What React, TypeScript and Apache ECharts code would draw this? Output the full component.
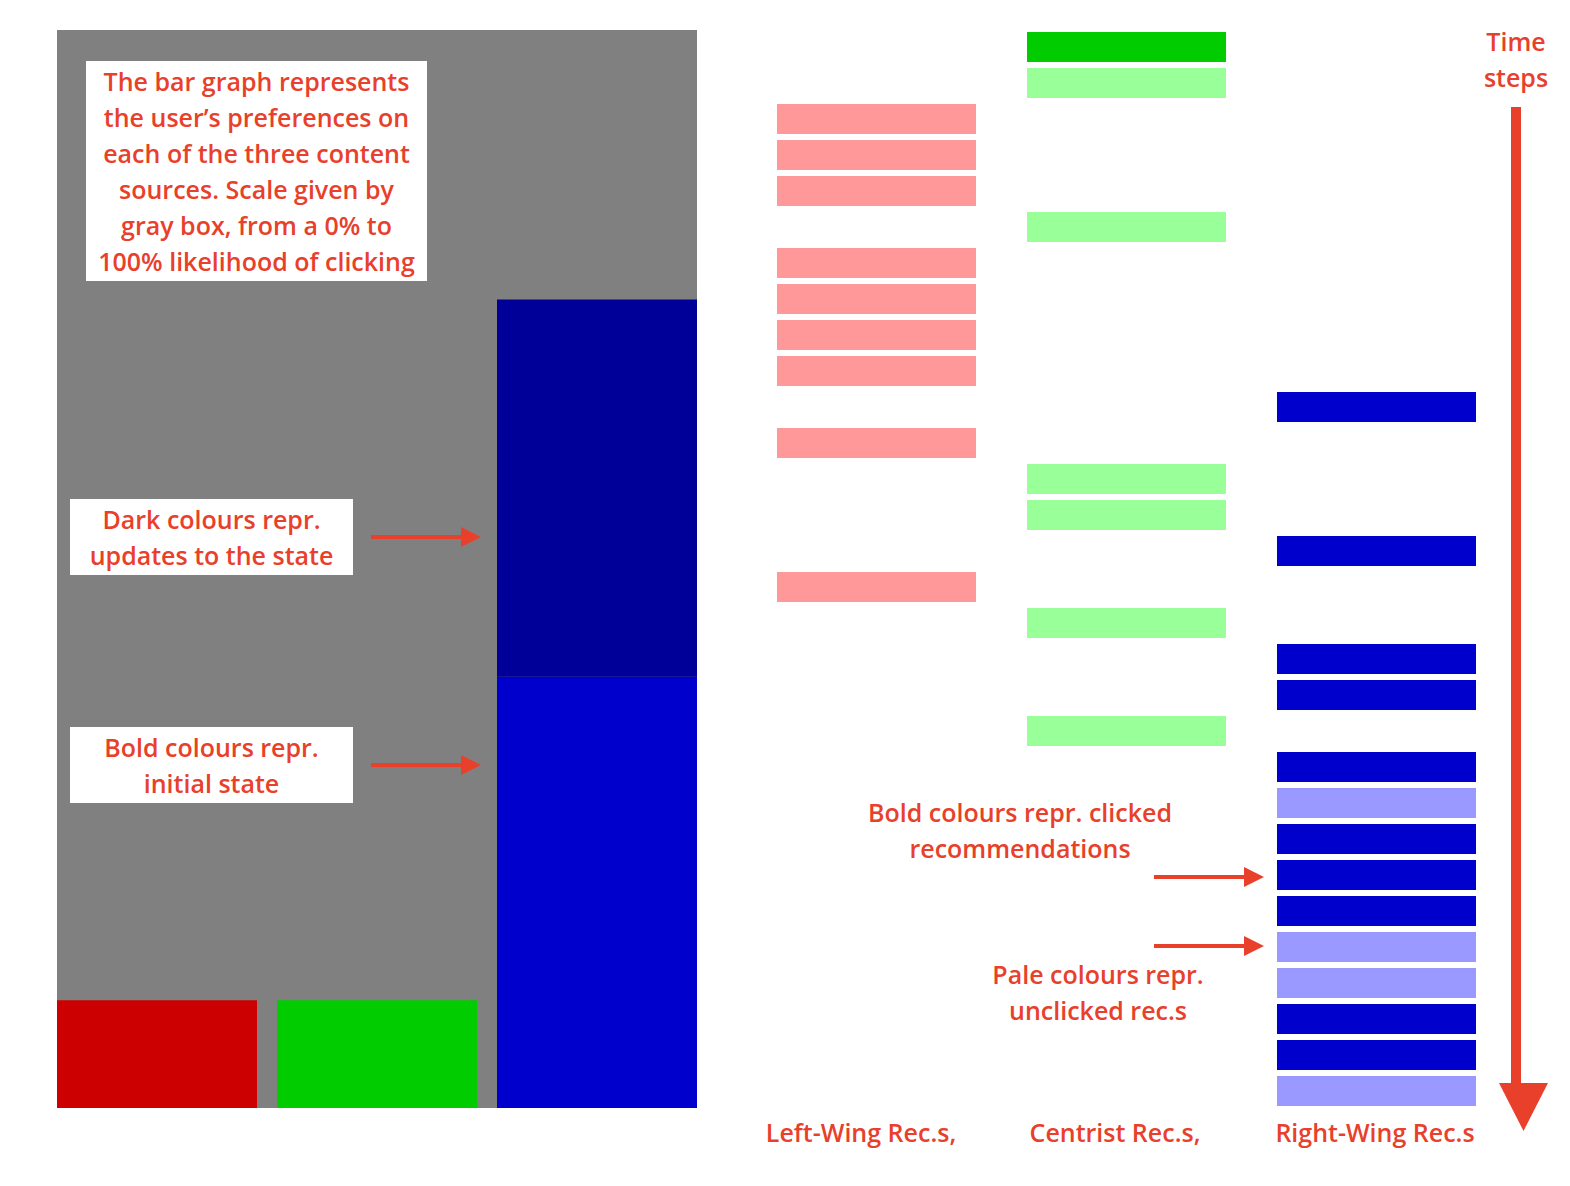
import React, { useEffect, useRef } from "react";
import * as echarts from "echarts";

// ---- Left panel: user preference state (0–100% likelihood of clicking)
const sources = ["Left-Wing", "Centrist", "Right-Wing"];
const initialState = [10, 10, 40];
const stateUpdates = [0, 0, 35];
const boldColours = ["#CC0000", "#00CC00", "#0000CC"];
const darkColours = ["#990000", "#009900", "#000099"];
const paleColours = ["#FF9999", "#99FF99", "#9999FF"];

// ---- Right panel: recommendations over time steps
// column index of the recommended source at each time step
const recSource = [1, 1, 0, 0, 0, 1, 0, 0, 0, 0, 2, 0, 1, 1, 2, 0, 1, 2, 2, 1, 2, 2, 2, 2, 2, 2, 2, 2, 2, 2];
// 1 = clicked, 0 = unclicked
const recClicked = [1, 0, 0, 0, 0, 0, 0, 0, 0, 0, 1, 0, 0, 0, 1, 0, 0, 1, 1, 0, 1, 0, 1, 1, 1, 0, 0, 1, 1, 0];
const columnLabels = ["Left-Wing Rec.s,", "Centrist Rec.s,", "Right-Wing Rec.s"];

const RED = "#E8402A";
const FONT = "Open Sans";

export default function App() {
  const ref = useRef<HTMLDivElement>(null);

  useEffect(() => {
    if (!ref.current) return;
    const chart = echarts.init(ref.current, null, { renderer: "svg" });

    const recData = recSource.map((c, i) => [c, i, recClicked[i]]);

    const textStyle = (extra: any) => ({
      fill: RED,
      fontFamily: FONT,
      fontWeight: 600,
      fontSize: 25,
      textAlign: "center",
      textVerticalAlign: "middle",
      lineHeight: 36,
      ...extra,
    });

    const arrow = (x1: number, x2: number, y: number) => [
      { type: "line", shape: { x1, y1: y, x2: x2 - 18, y2: y }, style: { stroke: RED, lineWidth: 4 }, z: 100 },
      {
        type: "polygon",
        shape: { points: [[x2 - 20, y - 10], [x2, y], [x2 - 20, y + 10]] },
        style: { fill: RED },
        z: 100,
      },
    ];

    const option: any = {
      animation: false,
      backgroundColor: "#ffffff",
      grid: [
        // gray scale box (0% – 100%)
        { left: 57, top: 30, width: 640, height: 1078, show: true, backgroundColor: "#808080", borderWidth: 0 },
        // bars (category bands of 220px, bars 200px wide)
        { left: 47, top: 30, width: 660, height: 1078, show: false },
        // recommendations timeline
        { left: 751.5, top: 29, width: 750, height: 1080, show: false },
      ],
      xAxis: [
        { type: "value", gridIndex: 0, min: 0, max: 1, show: false },
        { type: "category", gridIndex: 1, data: sources, show: false },
        { type: "value", gridIndex: 2, min: -0.5, max: 2.5, show: false },
      ],
      yAxis: [
        { type: "value", gridIndex: 0, min: 0, max: 100, show: false },
        { type: "value", gridIndex: 1, min: 0, max: 100, show: false },
        { type: "value", gridIndex: 2, min: -0.5, max: recSource.length - 0.5, inverse: true, show: false },
      ],
      series: [
        {
          type: "bar",
          name: "Initial state",
          xAxisIndex: 1,
          yAxisIndex: 1,
          stack: "pref",
          barWidth: 200,
          data: initialState.map((v, i) => ({ value: v, itemStyle: { color: boldColours[i] } })),
        },
        {
          type: "bar",
          name: "Updates",
          xAxisIndex: 1,
          yAxisIndex: 1,
          stack: "pref",
          barWidth: 200,
          data: stateUpdates.map((v, i) => ({ value: v, itemStyle: { color: darkColours[i] } })),
        },
        {
          type: "custom",
          name: "Recommendations",
          xAxisIndex: 2,
          yAxisIndex: 2,
          data: recData,
          renderItem: (params: any, api: any) => {
            const col = api.value(0);
            const row = api.value(1);
            const clicked = api.value(2);
            const p = api.coord([col, row]);
            const s = api.size([1, 1]);
            const w = s[0] * 0.796;
            const h = s[1] * (30 / 36);
            return {
              type: "rect",
              shape: { x: p[0] - w / 2, y: p[1] - h / 2, width: w, height: h },
              style: { fill: clicked ? boldColours[col] : paleColours[col] },
            };
          },
        },
      ],
      graphic: [
        // top-left explanation box
        { type: "rect", shape: { x: 86, y: 61, width: 341, height: 220 }, style: { fill: "#ffffff" }, z: 90 },
        {
          type: "text",
          x: 256.5,
          y: 171,
          z: 100,
          style: textStyle({
            text:
              "The bar graph represents\nthe user\u2019s preferences on\neach of the three content\nsources. Scale given by\ngray box, from a 0% to\n100% likelihood of clicking",
          }),
        },
        { type: "rect", shape: { x: 70, y: 499, width: 283, height: 76 }, style: { fill: "#ffffff" }, z: 90 },
        { type: "text", x: 211.5, y: 537, z: 100, style: textStyle({ text: "Dark colours repr.\nupdates to the state" }) },
        { type: "rect", shape: { x: 70, y: 727, width: 283, height: 76 }, style: { fill: "#ffffff" }, z: 90 },
        { type: "text", x: 211.5, y: 765, z: 100, style: textStyle({ text: "Bold colours repr.\ninitial state" }) },
        ...arrow(371, 481, 537),
        ...arrow(371, 481, 765),
        { type: "text", x: 1020, y: 830, z: 100, style: textStyle({ text: "Bold colours repr. clicked\nrecommendations" }) },
        { type: "text", x: 1098, y: 992, z: 100, style: textStyle({ text: "Pale colours repr.\nunclicked rec.s" }) },
        ...arrow(1154, 1264, 877),
        ...arrow(1154, 1264, 946),
        // time arrow
        { type: "text", x: 1516, y: 59, z: 100, style: textStyle({ text: "Time\nsteps" }) },
        { type: "rect", shape: { x: 1511, y: 107, width: 10, height: 980 }, style: { fill: RED }, z: 100 },
        {
          type: "polygon",
          shape: { points: [[1499, 1083], [1548, 1083], [1523.5, 1131]] },
          style: { fill: RED },
          z: 100,
        },
        // column labels
        { type: "text", x: 861, y: 1132, z: 100, style: textStyle({ text: columnLabels[0] }) },
        { type: "text", x: 1115, y: 1132, z: 100, style: textStyle({ text: columnLabels[1] }) },
        { type: "text", x: 1375, y: 1132, z: 100, style: textStyle({ text: columnLabels[2] }) },
      ],
    };

    chart.setOption(option);
    return () => chart.dispose();
  }, []);

  return <div ref={ref} style={{ width: 1570, height: 1186, position: "absolute", left: 0, top: 0 }} />;
}
